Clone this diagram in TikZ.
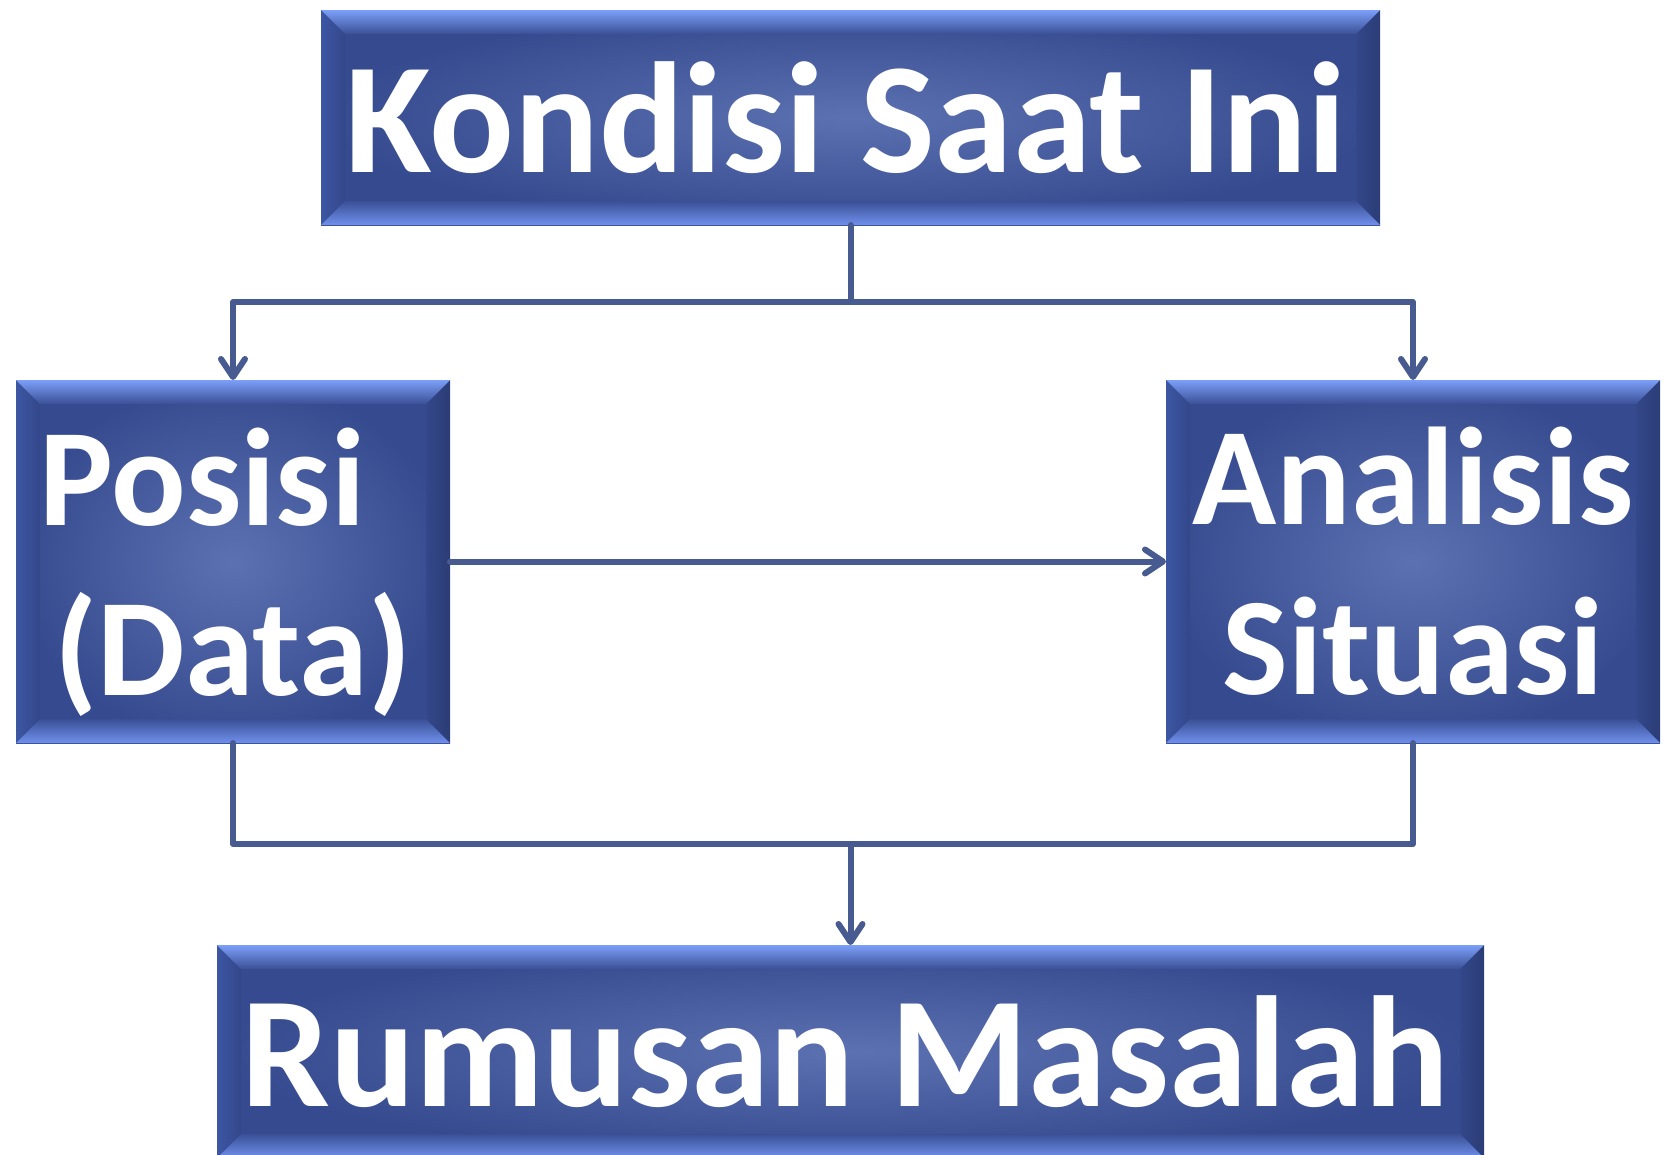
\documentclass[tikz,border=0pt]{standalone}
\usepackage{fontspec}
\setmainfont{Carlito}
\usetikzlibrary{arrows.meta}

\definecolor{panelmid}{HTML}{5C71B1}
\definecolor{paneledge}{HTML}{364B8F}
\definecolor{bevelhi}{HTML}{7C9FF8}
\definecolor{bevellow}{HTML}{7090EC}
\definecolor{bevelin}{HTML}{3A5096}
\definecolor{sideout}{HTML}{3D57A4}
\definecolor{sidein}{HTML}{33478A}
\definecolor{wirecol}{HTML}{475B90}

\tikzset{
  x=1pt, y=-1pt,
  panel/.style={
    inner sep=0pt, outer sep=0pt,
    inner color=panelmid, outer color=paneledge,
    text=white, font=\bfseries, align=center,
    path picture={
      \def\bv{24pt}
      \coordinate (NW) at (path picture bounding box.north west);
      \coordinate (NE) at (path picture bounding box.north east);
      \coordinate (SE) at (path picture bounding box.south east);
      \coordinate (SW) at (path picture bounding box.south west);
      \coordinate (nw) at ([xshift=\bv,yshift=-\bv]NW);
      \coordinate (ne) at ([xshift=-\bv,yshift=-\bv]NE);
      \coordinate (se) at ([xshift=-\bv,yshift=\bv]SE);
      \coordinate (sw) at ([xshift=\bv,yshift=\bv]SW);
      \shade[left color=sideout, right color=sidein] (NW) -- (nw) -- (sw) -- (SW) -- cycle;
      \shade[left color=sidein, right color=sidein!85!black] (ne) -- (NE) -- (SE) -- (se) -- cycle;
      \shade[top color=bevelhi, bottom color=bevelin] (NW) -- (NE) -- (ne) -- (nw) -- cycle;
      \shade[top color=bevelin, bottom color=bevellow] (sw) -- (se) -- (SE) -- (SW) -- cycle;
    }
  },
  wire/.style={draw=wirecol, line width=6pt, line join=round, line cap=round},
  tip/.style={-{Straight Barb[length=18pt, width=24pt, line cap=round, line join=round]}}
}

\begin{document}
\begin{tikzpicture}
  \useasboundingbox (0,0) rectangle (1669,1154);

  % the four panels
  \node[panel, minimum width=1059pt, minimum height=215pt,
        font=\bfseries\fontsize{158}{160}\selectfont] (kondisi) at (850.5,117.5)
        {Kondisi Saat Ini\rule{0.065em}{0pt}};
  \node[panel, minimum width=434pt, minimum height=363pt,
        font=\bfseries\fontsize{139}{170}\selectfont] (posisi) at (233,561.5)
        {Posisi\rule{0.44em}{0pt}\\\smash{(Data)}};
  \node[panel, minimum width=494pt, minimum height=363pt,
        font=\bfseries\fontsize{139}{170}\selectfont] (analisis) at (1413,561.5)
        {Analisis\\Situasi};
  \node[panel, minimum width=1267pt, minimum height=213pt,
        font=\bfseries\fontsize{158}{160}\selectfont] (rumusan) at (850.5,1051.5)
        {Rumusan Masalah\rule{0.065em}{0pt}};

  % branching points of the connectors
  \coordinate (split) at (850.5,302);
  \coordinate (merge) at (850.5,844);

  \draw[wire] (kondisi.south) -- (split);
  \draw[wire, tip] (split) -| (posisi.north);
  \draw[wire, tip] (split) -| (analisis.north);
  \draw[wire, tip] (posisi.east) -- (analisis.west);
  \draw[wire] (posisi.south) |- (merge);
  \draw[wire] (analisis.south) |- (merge);
  \draw[wire, tip] (merge) -- (rumusan.north);
\end{tikzpicture}
\end{document}
